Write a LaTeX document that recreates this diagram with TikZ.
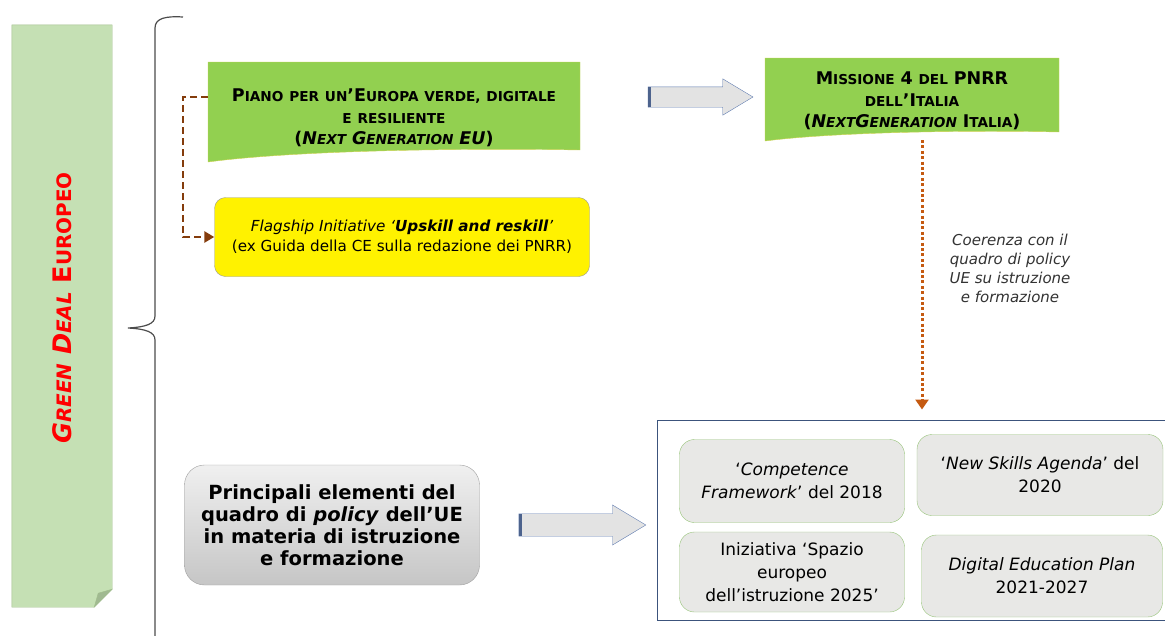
\documentclass[tikz,border=0pt]{standalone}
\usepackage{fontspec}
\usepackage{scalefnt}
\setmainfont{DejaVu Sans}
\usetikzlibrary{positioning,calc,shapes.arrows,arrows.meta,backgrounds}

\definecolor{notegreen}{RGB}{197,224,180}
\definecolor{noteedge}{RGB}{160,190,140}
\definecolor{notefold}{RGB}{160,185,145}
\definecolor{boxgreen}{RGB}{146,208,80}
\definecolor{boxedge}{RGB}{205,210,80}
\definecolor{dashbrown}{RGB}{132,60,12}
\definecolor{dotorange}{RGB}{197,90,17}
\definecolor{frameblue}{RGB}{60,84,124}
\definecolor{arrowblue}{RGB}{96,124,176}
\definecolor{tilegray}{RGB}{232,232,230}
\definecolor{tileedge}{RGB}{150,195,120}

% small caps made by hand
\newcommand{\smc}[1]{{\scalefont{0.78}#1}}

\tikzset{
  doctext/.style={text width=#1, align=center, inner sep=0pt,
    font=\bfseries\fontsize{17.5}{21.5}\selectfont},
  ybox/.style={draw=gray!80, fill=yellow, rounded corners=11pt, align=center,
    minimum width=375pt, minimum height=79pt, font=\fontsize{15.2}{20}\selectfont},
  gbox/.style={draw=gray!75, top color=gray!12, bottom color=gray!45, rounded corners=20pt,
    align=center, minimum width=295pt, minimum height=120pt, font=\bfseries\fontsize{19.5}{22}\selectfont},
  tile/.style={draw=tileedge, fill=tilegray, rounded corners=15pt, align=center,
    minimum height=81pt, font=\fontsize{17}{23}\selectfont},
  blockarrow/.style={single arrow, draw=arrowblue, fill=gray!22, inner xsep=0pt, inner ysep=10pt,
    minimum width=36pt, single arrow head extend=8pt, single arrow tip angle=62},
  dasharrow/.style={dashbrown, line width=2.6pt, dash pattern=on 7pt off 4pt,
    -{Triangle[length=10pt,width=11pt]}},
  dotarrow/.style={dotorange, line width=3pt, dash pattern=on 3pt off 2.4pt,
    -{Triangle[length=10pt,width=13pt]}},
}

\begin{document}
\begin{tikzpicture}[x=1pt,y=-1pt]
\useasboundingbox (0,0) rectangle (1165,635);

% Green Deal note
\node[minimum width=100pt, minimum height=582pt, inner sep=0pt] (gd) at (62,316) {};
\filldraw[fill=notegreen, draw=noteedge] (gd.north west) -- (gd.north east)
  -- ($(gd.south east)+(0,-18)$) -- ($(gd.south east)+(-18,0)$) -- (gd.south west) -- cycle;
\filldraw[fill=notefold, draw=noteedge] ($(gd.south east)+(0,-18)$) -- ($(gd.south east)+(-18,0)$)
  -- ($(gd.south east)+(-14,-14)$) -- cycle;
\node[rotate=90, text=red, font=\bfseries\fontsize{25.5}{28}\selectfont] (gdtext) at ($(gd.center)+(0,-8)$)
  {{\itshape G\smc{REEN} D\smc{EAL}} E\smc{UROPEO}};

% brace
\draw[gray!60!black, line width=1.2pt] (183,17) .. controls (166,16) and (155,18) .. (155,28)
  -- (155,316) .. controls (155,324) and (146,327) .. (128,328)
  .. controls (146,329) and (155,332) .. (155,340) -- (155,640);

% top row
\node[doctext=360pt] (piano) at (394,118)
  {P\smc{IANO PER UN}’E\smc{UROPA VERDE, DIGITALE}\\ \smc{E RESILIENTE}\\
   ({\itshape N\smc{EXT} G\smc{ENERATION} EU})};
\node[doctext=285pt] (m4) at (912,101)
  {M\smc{ISSIONE} 4 \smc{DEL} PNRR\\ \smc{DELL}’I\smc{TALIA}\\
   ({\itshape N\smc{EXT}G\smc{ENERATION}} I\smc{TALIA})};
\begin{scope}[on background layer]
\filldraw[fill=boxgreen, draw=boxedge] ($(piano)+(-186,-56)$) -- ($(piano)+(186,-56)$) -- ($(piano)+(186,32)$)
  .. controls ($(piano)+(76,30)$) and ($(piano)+(-96,32)$) .. ($(piano)+(-186,44)$) -- cycle;
\filldraw[fill=boxgreen, draw=boxedge] ($(m4)+(-147,-43)$) -- ($(m4)+(147,-43)$) -- ($(m4)+(147,31)$)
  .. controls ($(m4)+(57,29)$) and ($(m4)+(-77,31)$) .. ($(m4)+(-147,40)$) -- cycle;
\end{scope}

\node[blockarrow, minimum height=105pt] (arr1) at (692,97) {};
\draw[arrowblue!80!black, line width=3pt] ([xshift=1.5pt]arr1.before tail) -- ([xshift=1.5pt]arr1.after tail);

\node[ybox] (flag) at (402,237)
  {{\itshape Flagship Initiative ‘\textbf{Upskill and reskill}’}\\ (ex Guida della CE sulla redazione dei PNRR)};
\draw[dasharrow] ($(piano)+(-186,-21)$) -- ++(-25,0) |- (flag.west);

% bottom row
\node[gbox] (quadro) at (332,525)
  {Principali elementi del\\ quadro di \textit{policy} dell’UE\\ in materia di istruzione\\ e formazione};
\node[blockarrow, minimum height=127pt, minimum width=40pt] (arr2) at (573,525) {};
\draw[arrowblue!80!black, line width=3pt] ([xshift=1.5pt]arr2.before tail) -- ([xshift=1.5pt]arr2.after tail);

\node[draw=frameblue, line width=1pt, minimum width=520pt, minimum height=200pt] (frame) at (917,520) {};
\node[tile, minimum width=225pt, minimum height=83pt] (comp) at (792,481)
  {‘\textit{Competence}\\ \textit{Framework}’ del 2018};
\node[tile, minimum width=246pt] (skills) at (1040,475)
  {‘\textit{New Skills Agenda}’ del\\ 2020};
\node[tile, minimum width=225pt, minimum height=80pt] (spazio) at (792,572)
  {Iniziativa ‘Spazio\\ europeo\\ dell’istruzione 2025’};
\node[tile, minimum width=241pt, minimum height=82pt] (dep) at (1042,576)
  {\textit{Digital Education Plan}\\ 2021-2027};

% coherence link
\coordinate (m4out) at ($(m4)+(10,39)$);
\draw[dotarrow, shorten >=10pt] (m4out) -- (m4out |- frame.north);
\node[align=center, text=black!80, font=\itshape\fontsize{15}{19}\selectfont] (coer) at (1010,268)
  {Coerenza con il\\ quadro di policy\\ UE su istruzione\\ e formazione};
\end{tikzpicture}
\end{document}
